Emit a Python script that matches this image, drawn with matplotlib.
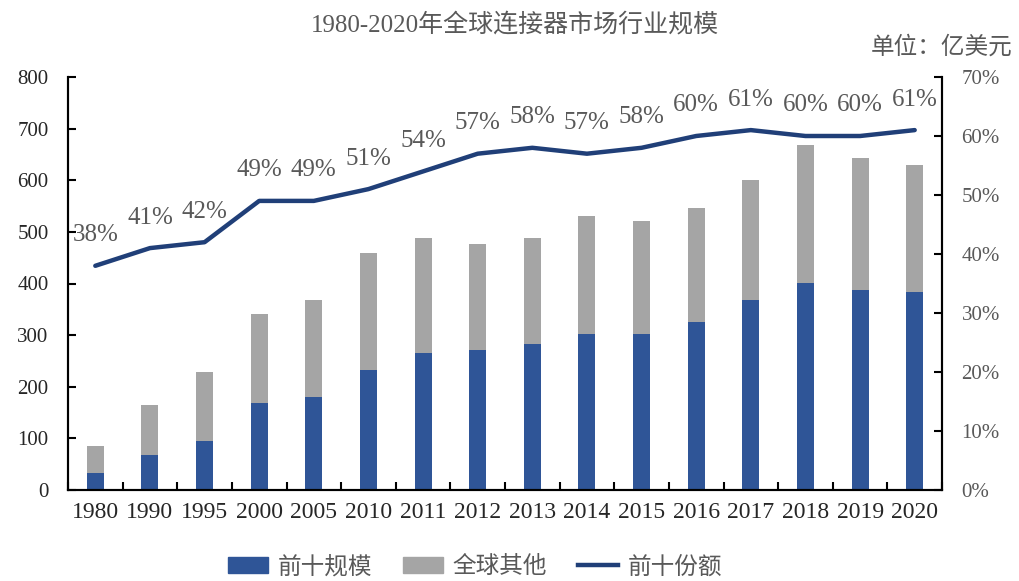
import matplotlib
matplotlib.use("Agg")
import matplotlib.pyplot as plt
import numpy as np
from matplotlib.lines import Line2D
from matplotlib.patches import Patch

years = ["1980", "1990", "1995", "2000", "2005", "2010", "2011", "2012",
         "2013", "2014", "2015", "2016", "2017", "2018", "2019", "2020"]
top10 = [33, 68, 95, 169, 180, 233, 265, 271, 283, 302, 302, 326, 368, 401, 388, 384]
others = [52, 97, 134, 172, 188, 226, 223, 206, 205, 229, 219, 220, 233, 268, 255, 246]
share = [38, 41, 42, 49, 49, 51, 54, 57, 58, 57, 58, 60, 61, 60, 60, 61]

BLUE = "#2F5597"
GRAY = "#A5A5A5"
NAVY = "#203F78"
TXT = "#595959"
LATIN = ["Liberation Serif", "Noto Sans CJK SC"]

plt.rcParams["font.family"] = LATIN

fig = plt.figure(figsize=(10.19, 5.81), dpi=100)
ax = fig.add_axes([68 / 1019, 1 - 490 / 581, 874 / 1019, 413 / 581])
ax2 = ax.twinx()

x = np.arange(len(years))
ax.bar(x, top10, width=0.31, color=BLUE, zorder=2)
ax.bar(x, others, width=0.31, bottom=top10, color=GRAY, zorder=2)

ax2.plot(x, share, color=NAVY, lw=3.2, solid_capstyle="round", zorder=3)
for xi, s in zip(x, share):
    ax2.annotate(f"{s}%", (xi, s), xytext=(0, 22), textcoords="offset points",
                 ha="center", va="center", fontsize=18, color=TXT)

ax.set_xlim(-0.5, len(years) - 0.5)
ax.set_ylim(0, 800)
ax.set_yticks(range(0, 801, 100))
ax2.set_ylim(0, 70)
ax2.set_yticks(range(0, 71, 10))
ax2.set_yticklabels([f"{v}%" for v in range(0, 71, 10)])

ax.set_xticks(x)
ax.set_xticklabels(years)
ax.set_xticks(np.arange(-0.5, len(years)), minor=True)
ax.tick_params(axis="x", which="major", length=0, pad=9, labelsize=17, labelcolor="#262626")
ax.tick_params(axis="x", which="minor", direction="in", length=6, width=1.5)
ax.tick_params(axis="y", direction="in", length=6, width=1.5, pad=14,
               labelsize=15, labelcolor="#262626")
ax2.tick_params(axis="y", direction="in", length=6, width=1.5, pad=14,
                labelsize=15, labelcolor=TXT)

for a in (ax, ax2):
    a.spines["top"].set_visible(False)
    for s in ("left", "right", "bottom"):
        a.spines[s].set_linewidth(1.5)

fig.text(515 / 1019, 1 - 25 / 581, "1980-2020年全球连接器市场行业规模",
         ha="center", va="center", fontsize=18, color=TXT)
fig.text(1013 / 1019, 1 - 47 / 581, "单位：亿美元", ha="right", va="center",
         fontsize=17, color=TXT)

handles = [Patch(color=BLUE), Patch(color=GRAY), Line2D([], [], color=NAVY, lw=3.2)]
fig.legend(handles, ["前十规模", "全球其他", "前十份额"], loc="center",
           bbox_to_anchor=(475 / 1019, 1 - 567 / 581), ncol=3, frameon=False,
           fontsize=17, labelcolor=TXT, handlelength=1.7, handleheight=0.7,
           handletextpad=0.4, columnspacing=1.3)

fig.savefig("out.png", dpi=100)
